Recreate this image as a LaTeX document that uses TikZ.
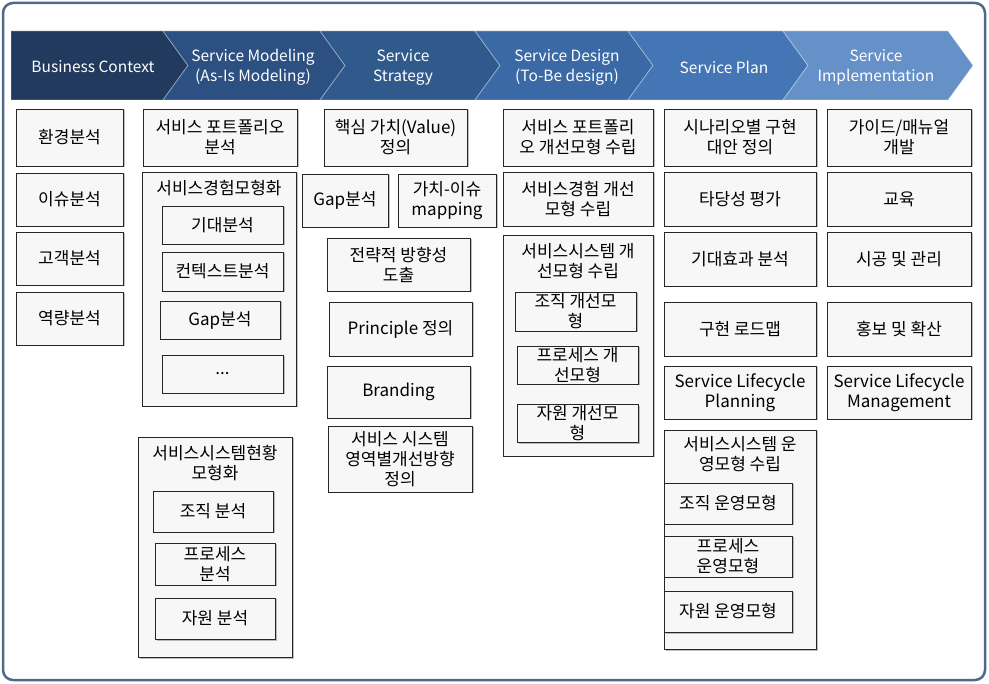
\documentclass[tikz,border=0pt]{standalone}
\usepackage{fontspec}
\setmainfont{Noto Sans CJK KR}
\usetikzlibrary{shadows}

\definecolor{frameblue}{HTML}{4D6A8E}
\definecolor{stA}{HTML}{223A5D}
\definecolor{stB}{HTML}{2C5081}
\definecolor{stC}{HTML}{30598C}
\definecolor{stD}{HTML}{3A69A6}
\definecolor{stE}{HTML}{4476B6}
\definecolor{stF}{HTML}{6690C8}
\definecolor{boxgray}{HTML}{F7F7F7}

\begin{document}
\begin{tikzpicture}[x=1pt, y=-1pt, font=\fontsize{17}{20}\selectfont,
    box/.style={draw=black!85, fill=boxgray, line width=0.9pt, align=center, inner sep=1pt,
        drop shadow={shadow xshift=1.5pt, shadow yshift=-1.5pt, fill=black, opacity=0.25}},
    stage/.style={text=white, align=center, font=\fontsize{15.5}{20}\selectfont},
    chev/.style={draw=white, draw opacity=0.35, line width=0.8pt}]
        \useasboundingbox (0, 0) rectangle (989, 684);
        \draw[frameblue, line width=2.5pt, rounded corners=10pt] (3, 3) rectangle (985, 680);

        % process stages
        \fill[chev, fill=stA] (11, 31) -- (163, 31) -- (188, 65.5) -- (163, 100) -- (11, 100) -- cycle;
        \fill[chev, fill=stB] (163, 31) -- (320, 31) -- (345, 65.5) -- (320, 100) -- (163, 100) -- (188, 65.5) -- cycle;
        \fill[chev, fill=stC] (320, 31) -- (475, 31) -- (500, 65.5) -- (475, 100) -- (320, 100) -- (345, 65.5) -- cycle;
        \fill[chev, fill=stD] (475, 31) -- (628, 31) -- (653, 65.5) -- (628, 100) -- (475, 100) -- (500, 65.5) -- cycle;
        \fill[chev, fill=stE] (628, 31) -- (783, 31) -- (808, 65.5) -- (783, 100) -- (628, 100) -- (653, 65.5) -- cycle;
        \fill[chev, fill=stF] (783, 31) -- (948, 31) -- (973, 65.5) -- (948, 100) -- (783, 100) -- (808, 65.5) -- cycle;
        \node[stage] (context) at (93, 67) {Business Context};
        \node[stage] (modeling) at (253, 67) {Service Modeling\\(As-Is Modeling)};
        \node[stage] (strategy) at (403, 67) {Service\\Strategy};
        \node[stage] (design) at (567, 67) {Service Design\\(To-Be design)};
        \node[stage] (plan) at (724, 67) {Service Plan};
        \node[stage] (impl) at (876, 67) {Service\\Implementation};

        % Business Context
        \node[box, minimum width=107pt, minimum height=57pt] (env) at (69.5, 137.5) {환경분석};
        \node[box, minimum width=107pt, minimum height=53pt] (issue) at (69.5, 199.5) {이슈분석};
        \node[box, minimum width=107pt, minimum height=53pt] (cust) at (69.5, 258.5) {고객분석};
        \node[box, minimum width=107pt, minimum height=53pt] (capa) at (69.5, 318.5) {역량분석};

        % Service Modeling
        \node[box, minimum width=154pt, minimum height=57pt] (portf) at (220, 137.5) {서비스 포트폴리오\\분석};
        \node[box, minimum width=154pt, minimum height=234pt] (expc) at (219, 289) {};
        \node (expc-t) at (219, 188) {서비스경험모형화};
        \node[box, minimum width=121pt, minimum height=38pt] (exp1) at (222.5, 225) {기대분석};
        \node[box, minimum width=121pt, minimum height=39pt] (exp2) at (222.5, 271.5) {컨텍스트분석};
        \node[box, minimum width=120pt, minimum height=38pt] (exp3) at (220, 320) {Gap분석};
        \node[box, minimum width=121pt, minimum height=38pt] (exp4) at (222.5, 374) {...};
        \node[box, minimum width=154pt, minimum height=220pt] (sysc) at (215, 547) {};
        \node[align=center] (sysc-t) at (215, 463) {서비스시스템현황\\모형화};
        \node[box, minimum width=120pt, minimum height=41pt] (sys1) at (213, 511.5) {조직 분석};
        \node[box, minimum width=120pt, minimum height=42pt] (sys2) at (215, 564) {프로세스\\분석};
        \node[box, minimum width=120pt, minimum height=41pt] (sys3) at (215, 618.5) {자원 분석};

        % Service Strategy
        \node[box, minimum width=143pt, minimum height=57pt] (val) at (395.5, 137.5) {핵심 가치(Value)\\정의};
        \node[box, minimum width=86pt, minimum height=53pt] (gap) at (345, 200.5) {Gap분석};
        \node[box, minimum width=98pt, minimum height=53pt] (map) at (447, 200.5) {가치-이슈\\mapping};
        \node[box, minimum width=143pt, minimum height=53pt] (dir) at (398.5, 264.5) {전략적 방향성\\도출};
        \node[box, minimum width=143pt, minimum height=54pt] (prin) at (400.5, 329) {Principle 정의};
        \node[box, minimum width=143pt, minimum height=52pt] (brand) at (398.5, 392) {Branding};
        \node[box, minimum width=144pt, minimum height=66pt] (area) at (400, 459) {서비스 시스템\\영역별개선방향\\정의};

        % Service Design
        \node[box, minimum width=150pt, minimum height=57pt] (dport) at (578, 137.5) {서비스 포트폴리\\오 개선모형 수립};
        \node[box, minimum width=150pt, minimum height=54pt] (dexp) at (578, 199) {서비스경험 개선\\모형 수립};
        \node[box, minimum width=150pt, minimum height=221pt] (dsysc) at (578, 345.5) {};
        \node[align=center] (dsysc-t) at (578, 261) {서비스시스템 개\\선모형 수립};
        \node[box, minimum width=121pt, minimum height=39pt] (dsys1) at (575.5, 311.5) {조직 개선모\\형};
        \node[box, minimum width=121pt, minimum height=38pt] (dsys2) at (577.5, 365) {프로세스 개\\선모형};
        \node[box, minimum width=121pt, minimum height=37pt] (dsys3) at (577.5, 423.5) {자원 개선모\\형};

        % Service Plan
        \node[box, minimum width=152pt, minimum height=57pt] (scen) at (740, 137.5) {시나리오별 구현\\대안 정의};
        \node[box, minimum width=152pt, minimum height=54pt] (feas) at (740, 199) {타당성 평가};
        \node[box, minimum width=152pt, minimum height=54pt] (eff) at (740, 259) {기대효과 분석};
        \node[box, minimum width=152pt, minimum height=54pt] (road) at (740, 329) {구현 로드맵};
        \node[box, minimum width=152pt, minimum height=53pt] (slp) at (740, 392.5) {Service Lifecycle\\Planning};
        \node[box, minimum width=152pt, minimum height=219pt] (osysc) at (740, 539.5) {};
        \node[align=center] (osysc-t) at (740, 454) {서비스시스템 운\\영모형 수립};
        \node[box, minimum width=128pt, minimum height=41pt] (osys1) at (728, 503.5) {조직 운영모형};
        \node[box, minimum width=128pt, minimum height=41pt] (osys2) at (728, 556.5) {프로세스\\운영모형};
        \node[box, minimum width=128pt, minimum height=41pt] (osys3) at (728, 611.5) {자원 운영모형};

        % Service Implementation
        \node[box, minimum width=144pt, minimum height=57pt] (guide) at (899, 137.5) {가이드/매뉴얼\\개발};
        \node[box, minimum width=144pt, minimum height=54pt] (edu) at (899, 199) {교육};
        \node[box, minimum width=144pt, minimum height=54pt] (cons) at (899, 259) {시공 및 관리};
        \node[box, minimum width=144pt, minimum height=54pt] (prom) at (899, 329) {홍보 및 확산};
        \node[box, minimum width=144pt, minimum height=53pt] (slm) at (899, 392.5) {Service Lifecycle\\Management};
\end{tikzpicture}
\end{document}
